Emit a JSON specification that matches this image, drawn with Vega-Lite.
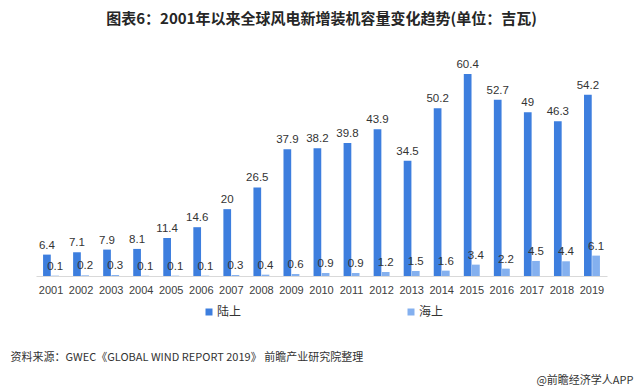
{
  "$schema": "https://vega.github.io/schema/vega-lite/v6.json",
  "width": 571,
  "height": 234,
  "autosize": {"type": "none"},
  "padding": {"left": 36, "top": 42, "right": 33, "bottom": 115},
  "background": "white",
  "title": {
    "text": "图表6：2001年以来全球风电新增装机容量变化趋势(单位：吉瓦)",
    "font": "Noto Sans CJK SC",
    "fontSize": 15,
    "fontWeight": "bold",
    "color": "#262626",
    "anchor": "middle",
    "offset": 15
  },
  "config": {
    "view": {"stroke": null},
    "font": "Liberation Sans"
  },
  "data": {
    "values": [
      {"year": "2001", "type": "陆上", "value": 6.4},
      {"year": "2002", "type": "陆上", "value": 7.1},
      {"year": "2003", "type": "陆上", "value": 7.9},
      {"year": "2004", "type": "陆上", "value": 8.1},
      {"year": "2005", "type": "陆上", "value": 11.4},
      {"year": "2006", "type": "陆上", "value": 14.6},
      {"year": "2007", "type": "陆上", "value": 20},
      {"year": "2008", "type": "陆上", "value": 26.5},
      {"year": "2009", "type": "陆上", "value": 37.9},
      {"year": "2010", "type": "陆上", "value": 38.2},
      {"year": "2011", "type": "陆上", "value": 39.8},
      {"year": "2012", "type": "陆上", "value": 43.9},
      {"year": "2013", "type": "陆上", "value": 34.5},
      {"year": "2014", "type": "陆上", "value": 50.2},
      {"year": "2015", "type": "陆上", "value": 60.4},
      {"year": "2016", "type": "陆上", "value": 52.7},
      {"year": "2017", "type": "陆上", "value": 49},
      {"year": "2018", "type": "陆上", "value": 46.3},
      {"year": "2019", "type": "陆上", "value": 54.2},
      {"year": "2001", "type": "海上", "value": 0.1},
      {"year": "2002", "type": "海上", "value": 0.2},
      {"year": "2003", "type": "海上", "value": 0.3},
      {"year": "2004", "type": "海上", "value": 0.1},
      {"year": "2005", "type": "海上", "value": 0.1},
      {"year": "2006", "type": "海上", "value": 0.1},
      {"year": "2007", "type": "海上", "value": 0.3},
      {"year": "2008", "type": "海上", "value": 0.4},
      {"year": "2009", "type": "海上", "value": 0.6},
      {"year": "2010", "type": "海上", "value": 0.9},
      {"year": "2011", "type": "海上", "value": 0.9},
      {"year": "2012", "type": "海上", "value": 1.2},
      {"year": "2013", "type": "海上", "value": 1.5},
      {"year": "2014", "type": "海上", "value": 1.6},
      {"year": "2015", "type": "海上", "value": 3.4},
      {"year": "2016", "type": "海上", "value": 2.2},
      {"year": "2017", "type": "海上", "value": 4.5},
      {"year": "2018", "type": "海上", "value": 4.4},
      {"year": "2019", "type": "海上", "value": 6.1}
    ]
  },
  "encoding": {
    "x": {
      "field": "year",
      "type": "nominal",
      "scale": {"paddingInner": 0.47, "paddingOuter": 0.235},
      "axis": {
        "labelAngle": 0,
        "labelFontSize": 11,
        "labelColor": "#404040",
        "labelPadding": 8,
        "ticks": false,
        "domainColor": "#d9d9d9",
        "domainWidth": 1,
        "title": "资料来源：GWEC《GLOBAL WIND REPORT 2019》 前瞻产业研究院整理",
        "titleFont": "Noto Sans CJK SC",
        "titleFontSize": 11,
        "titleFontWeight": "normal",
        "titleColor": "#333333",
        "titleAnchor": "start",
        "titleAlign": "left",
        "titleBaseline": "middle",
        "titleX": -26,
        "titleY": 81
      }
    },
    "xOffset": {
      "field": "type",
      "type": "nominal",
      "sort": ["陆上", "海上"],
      "scale": {"paddingInner": 0.06}
    },
    "y": {
      "field": "value",
      "type": "quantitative",
      "scale": {"domain": [0, 70]},
      "axis": {
        "orient": "right",
        "grid": false,
        "labels": false,
        "ticks": false,
        "domain": false,
        "title": "@前瞻经济学人APP",
        "titleFont": "Noto Sans CJK SC",
        "titleFontSize": 11,
        "titleFontWeight": "normal",
        "titleColor": "#333333",
        "titleAngle": 0,
        "titleAlign": "right",
        "titleBaseline": "middle",
        "titleX": 26,
        "titleY": 338
      }
    }
  },
  "layer": [
    {
      "mark": {"type": "bar"},
      "encoding": {
        "color": {
          "field": "type",
          "type": "nominal",
          "sort": ["陆上", "海上"],
          "scale": {"domain": ["陆上", "海上"], "range": ["#3d7ede", "#84b0ef"]},
          "legend": {
            "orient": "none",
            "legendX": 167,
            "legendY": 264,
            "direction": "horizontal",
            "title": null,
            "symbolType": "square",
            "symbolSize": 49,
            "symbolStrokeWidth": 0,
            "labelFont": "Noto Sans CJK SC",
            "labelFontSize": 12,
            "labelColor": "#333333",
            "labelOffset": 2,
            "columnPadding": 163
          }
        }
      }
    },
    {
      "mark": {"type": "text", "baseline": "bottom", "dy": -4, "fontSize": 11.5, "color": "#333333"},
      "encoding": {
        "text": {"field": "value", "type": "quantitative"}
      }
    }
  ]
}
